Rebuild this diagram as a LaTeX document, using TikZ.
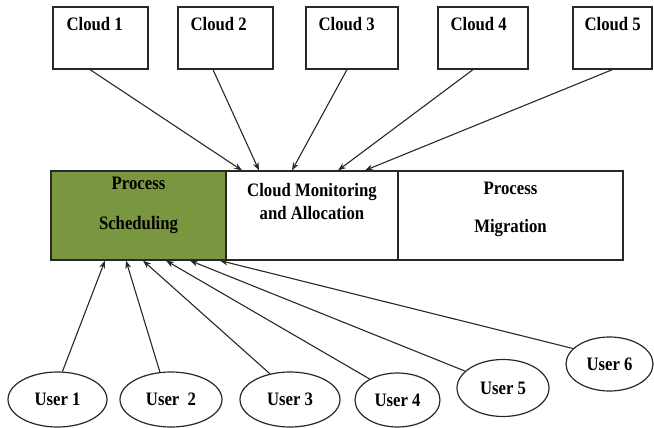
\documentclass[tikz,border=0pt]{standalone}
\usepackage{fontspec}
\setmainfont[FakeStretch=0.88]{Liberation Serif}
\usetikzlibrary{shapes.geometric,arrows.meta,calc}
\definecolor{olivegreen}{RGB}{122,150,62}
\definecolor{linegray}{RGB}{40,40,40}
\begin{document}
\begin{tikzpicture}[x=1pt,y=-1pt,
  every node/.style={font=\fontsize{19}{22}\selectfont\bfseries, text=black},
  cloudbox/.style={draw=linegray, line width=1.2pt, rectangle, inner sep=0pt, minimum height=62pt},
  cell/.style={draw=linegray, line width=1.2pt, rectangle, inner sep=0pt, minimum height=89pt},
  txt/.style={inner sep=0pt, align=center},
  userell/.style={draw=linegray, line width=1.2pt, ellipse, inner sep=0pt},
  arr/.style={draw=linegray, line width=1.1pt, -{Stealth[length=8pt,width=6pt]}}]
\useasboundingbox (0,0) rectangle (654,428);
% clouds
\node[cloudbox, minimum width=95pt] (c1) at (100.5,38) {};
\node[cloudbox, minimum width=95pt] (c2) at (225.5,38) {};
\node[cloudbox, minimum width=92pt] (c3) at (352,38) {};
\node[cloudbox, minimum width=90pt] (c4) at (483,38) {};
\node[cloudbox, minimum width=79pt] (c5) at (612.5,38) {};
\node[txt, anchor=west] (c1t) at ($(c1.north west)+(14,18)$) {Cloud 1};
\node[txt, anchor=west] (c2t) at ($(c2.north west)+(13,18)$) {Cloud 2};
\node[txt, anchor=west] (c3t) at ($(c3.north west)+(13,18)$) {Cloud 3};
\node[txt, anchor=west] (c4t) at ($(c4.north west)+(13,18)$) {Cloud 4};
\node[txt, anchor=west] (c5t) at ($(c5.north west)+(12,18)$) {Cloud 5};
% main box
\node[cell, fill=olivegreen, minimum width=175pt] (ps) at (138.5,215.5) {};
\node[cell, minimum width=172pt] (cma) at (312,215.5) {};
\node[cell, minimum width=225pt] (pm) at (510.5,215.5) {};
\node[txt] (pst) at (138.5,205) {Process\\[18pt]Scheduling};
\node[txt] (cmat) at (312,201.5) {Cloud Monitoring\\[1pt]and Allocation};
\node[txt] (pmt) at (510.5,209) {Process\\[16pt]Migration};
% users
\node[userell, minimum width=99pt, minimum height=55pt] (u1) at (57.5,399.5) {User 1};
\node[userell, minimum width=102pt, minimum height=55pt] (u2) at (171,399.5) {User~~2};
\node[userell, minimum width=100pt, minimum height=55pt] (u3) at (290,399.5) {User 3};
\node[userell, minimum width=85pt, minimum height=54pt] (u4) at (397.5,400) {User 4};
\node[userell, minimum width=92pt, minimum height=57pt] (u5) at (503,388) {User 5};
\node[userell, minimum width=87pt, minimum height=54pt] (u6) at (609.5,364) {User 6};
% cloud arrows
\draw[arr] ([xshift=-10.5pt]c1.south) -- ([xshift=-70pt]cma.north);
\draw[arr] ([xshift=-12.5pt]c2.south) -- ([xshift=-53pt]cma.north);
\draw[arr] ([xshift=-5pt]c3.south) -- ([xshift=-20pt]cma.north);
\draw[arr] ([xshift=-10pt]c4.south) -- ([xshift=26pt]cma.north);
\draw[arr] ([xshift=0pt]c5.south) -- ([xshift=53pt]cma.north);
% user arrows
\draw[arr] (u1.80) -- ([xshift=-33.5pt]ps.south);
\draw[arr] (u2.112) -- ([xshift=-12.5pt]ps.south);
\draw[arr] (u3.128) -- ([xshift=4.5pt]ps.south);
\draw[arr] (u4.143) -- ([xshift=27.5pt]ps.south);
\draw[arr] (u5.156) -- ([xshift=51.5pt]ps.south);
\draw[arr] (u6.157) -- ([xshift=81.5pt]ps.south);
\end{tikzpicture}
\end{document}
